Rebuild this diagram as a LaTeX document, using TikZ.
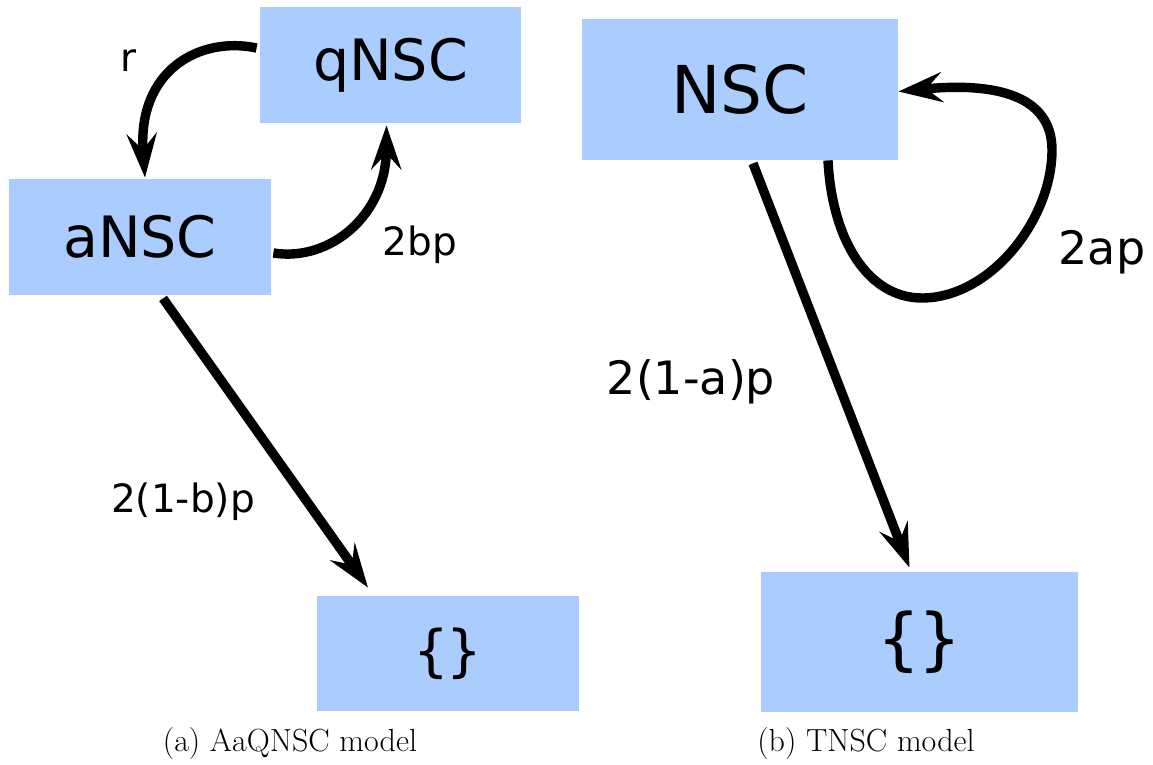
\documentclass[tikz,border=0pt]{standalone}
\usepackage{fontspec}
\newfontfamily\dvs{DejaVu Sans}
\newfontfamily\dvm{DejaVu Sans Mono}
\usetikzlibrary{arrows.meta,calc}
\definecolor{boxblue}{RGB}{170,204,255}
\begin{document}
\begin{tikzpicture}[x=0.5pt,y=-0.5pt,
  box/.style={rectangle, fill=boxblue, inner sep=0pt, align=center},
  link/.style={line width=4.7pt, -{Stealth[length=22pt,width=15pt,inset=8pt]}},
  lbl/.style={font=\dvs\fontsize{19.5}{20}\selectfont, anchor=base, inner sep=0pt},
  biglbl/.style={font=\dvs\fontsize{23}{24}\selectfont, anchor=base, inner sep=0pt},
  captext/.style={font=\fontsize{16}{19}\selectfont, anchor=base, inner sep=0pt}]
\useasboundingbox (0,0) rectangle (1153,765);
% boxes
\node[box, minimum width=130.5pt, minimum height=58pt, font=\dvs\fontsize{28.5}{30}\selectfont] (qNSC) at (390.5,65) {qNSC};
\node[box, minimum width=131pt, minimum height=58pt, font=\dvs\fontsize{28.5}{30}\selectfont] (aNSC) at (140,237) {aNSC};
\node[box, minimum width=131pt, minimum height=57.5pt, font=\dvm\fontsize{28}{30}\selectfont] (emptyA) at (448,653.5) {\{\}};
\node[box, minimum width=158pt, minimum height=70.5pt, font=\dvs\fontsize{33}{35}\selectfont] (NSC) at (740,89.5) {NSC};
\node[box, minimum width=158.5pt, minimum height=70pt, font=\dvm\fontsize{34}{36}\selectfont] (emptyB) at (919.5,642) {\{\}};
% connectors (a)
\draw[link] ($(qNSC.west)+(-3,-17)$) .. controls (200,36) and (137,70) .. ($(aNSC.north)+(5,-1)$);
\draw[link] ($(aNSC.east)+(2,16)$) .. controls (330,262) and (386,215) .. ($(qNSC.south)+(-4,2)$);
\draw[link] ($(aNSC.south)+(23,3)$) -- ($(emptyA.north)+(-80,-8)$);
% connectors (b)
\draw[link] ($(NSC.south)+(13,3)$) -- ($(emptyB.north)+(-10,-4)$);
\draw[link] ($(NSC.south)+(88,0)$) .. controls (832,240) and (868,298) .. (922,298)
  .. controls (990,298) and (1052,220) .. (1052,150)
  .. controls (1052,95) and (995,82) .. ($(NSC.east)+(0,2)$);
% labels
\node[lbl] (lr) at (129,72) {r};
\node[lbl] (l2bp) at (420,256) {2bp};
\node[lbl] (l1b) at (183,512) {2(1-b)p};
\node[biglbl] (l1a) at (691,394) {2(1-a)p};
\node[biglbl] (l2ap) at (1102,264) {2ap};
% captions
\node[captext] (capa) at (290,751) {(a) AaQNSC model};
\node[captext] (capb) at (866,751) {(b) TNSC model};
\end{tikzpicture}
\end{document}
